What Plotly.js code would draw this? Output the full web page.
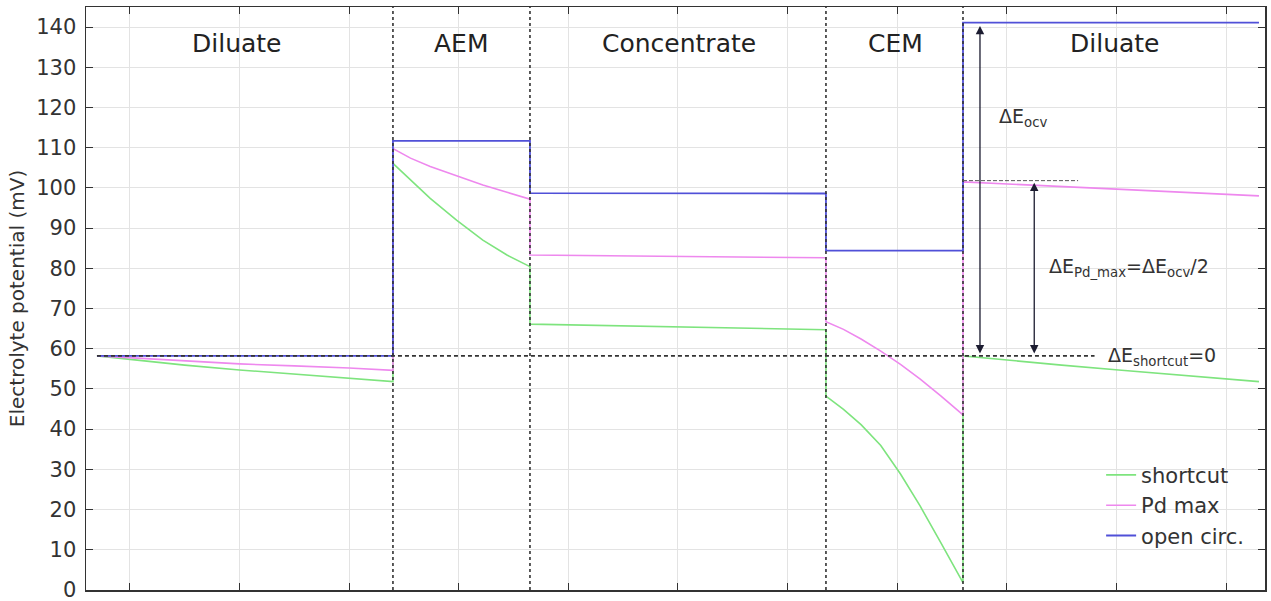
<!DOCTYPE html>
<html>
<head>
<meta charset="utf-8">
<script src="https://cdn.plot.ly/plotly-3.0.1.min.js"></script>
<style>html,body{margin:0;padding:0;background:#fff;}#chart{width:1271px;height:601px;}</style>
</head>
<body>
<div id="chart"></div>
<script>
// x in µm across the cell pair; y in mV
const regionNames = ["Diluate", "AEM", "Concentrate", "CEM", "Diluate"];
const regionLabelX = [128, 332, 531, 728, 929];
const boundaries = [270, 395, 665, 790];

const xOpen = [0, 270, 270, 395, 395, 665, 665, 790, 790, 1060];
const yOpen = [58.2, 58.2, 111.7, 111.7, 98.7, 98.6, 84.4, 84.4, 141.1, 141.1];

const xPd = [0, 30, 80, 130, 180, 230, 270,
             270, 286, 304, 328, 352, 374, 395,
             395, 530, 665,
             665, 681, 697, 715, 733, 751, 770, 790,
             790, 860, 930, 1000, 1060];
const yPd = [58.2, 57.7, 56.9, 56.2, 55.7, 55.2, 54.6,
             109.8, 107.4, 105.3, 103.0, 100.7, 98.9, 97.2,
             83.3, 83.0, 82.6,
             66.7, 64.8, 62.4, 59.4, 56.1, 52.4, 48.2, 43.5,
             101.5, 100.6, 99.7, 98.9, 98.0];

const xShort = [0, 30, 80, 130, 180, 230, 270,
                270, 286, 304, 328, 352, 374, 395,
                395, 530, 665,
                665, 681, 697, 715, 733, 751, 770, 790,
                790, 831, 880, 932, 1000, 1060];
const yShort = [58.2, 57.3, 55.9, 54.7, 53.6, 52.6, 51.8,
                106.1, 102.0, 97.4, 92.0, 87.0, 83.3, 80.4,
                66.1, 65.4, 64.7,
                48.2, 44.9, 41.1, 35.9, 28.8, 20.8, 11.6, 1.8,
                58.2, 57.1, 55.9, 54.7, 53.2, 51.8];

const seriesNames = ["shortcut", "Pd max", "open circ."];
const refLevel = 58.2, refLineEnd = 910;
const pdLevel = 101.8, pdLineX = [790, 895];
const arrowX = [805.5, 855];
const arrowTop = [140.3, 101.3];
const arrowBottom = 58.4;
const yTicks = [0,10,20,30,40,50,60,70,80,90,100,110,120,130,140];
const xTicks = [30,130,230,330,430,530,630,730,830,930,1030];

const traces = [
  {x: xShort, y: yShort, name: seriesNames[0], mode: "lines", line: {color: "#7ee47e", width: 1.6}},
  {x: xPd, y: yPd, name: seriesNames[1], mode: "lines", line: {color: "#ee88ee", width: 1.6}},
  {x: xOpen, y: yOpen, name: seriesNames[2], mode: "lines", line: {color: "#5050d8", width: 1.8}}
];

const shapes = boundaries.map(b => ({type: "line", xref: "x", yref: "paper", x0: b, x1: b, y0: 0, y1: 1, layer: "above",
  line: {color: "#333", width: 1.6, dash: "dot"}}));
shapes.push({type: "line", xref: "x", yref: "y", x0: 0, x1: refLineEnd, y0: refLevel, y1: refLevel, layer: "above",
  line: {color: "#333", width: 1.6, dash: "4px,3px"}});
shapes.push({type: "line", xref: "x", yref: "y", x0: pdLineX[0], x1: pdLineX[1], y0: pdLevel, y1: pdLevel, layer: "above",
  line: {color: "#555", width: 1, dash: "4px,2px"}});

const annotations = regionNames.map((t, i) => ({x: regionLabelX[i], y: 135.8, xref: "x", yref: "y", text: t, showarrow: false,
  font: {family: "DejaVu Sans", size: 25, color: "#222"}}));
arrowX.forEach((ax, i) => annotations.push({x: ax, y: arrowTop[i], ax: ax, ay: arrowBottom, xref: "x", yref: "y", axref: "x", ayref: "y",
  text: "", showarrow: true, arrowside: "end+start", arrowhead: 2, startarrowhead: 2, arrowsize: 1.3, startarrowsize: 1.3, arrowwidth: 1.3, arrowcolor: "#1c1c30", standoff: 0, startstandoff: 0}));
const labelFont = {family: "DejaVu Sans", size: 19, color: "#333"};
annotations.push({x: 821, y: 117.4, xref: "x", yref: "y", xanchor: "left", text: "ΔE<sub>ocv</sub>", showarrow: false, font: labelFont});
annotations.push({x: 867, y: 80.2, xref: "x", yref: "y", xanchor: "left", text: "ΔE<sub>Pd_max</sub>=ΔE<sub>ocv</sub>/2", showarrow: false, font: labelFont});
annotations.push({x: 920, y: 58.0, xref: "x", yref: "y", xanchor: "left", text: "ΔE<sub>shortcut</sub>=0", showarrow: false, font: labelFont});

const layout = {
  width: 1271, height: 601,
  margin: {l: 86, r: 6, t: 7, b: 11},
  paper_bgcolor: "#fff", plot_bgcolor: "#fff",
  font: {family: "DejaVu Sans", color: "#333"},
  showlegend: true,
  legend: {x: 0.861, y: 0.232, xanchor: "left", yanchor: "top", bgcolor: "rgba(255,255,255,0)", font: {family: "DejaVu Sans", size: 21, color: "#333"}},
  xaxis: {range: [-10, 1065.5], tickvals: xTicks, showticklabels: false, ticks: "inside", ticklen: 7, tickcolor: "#333",
    showgrid: true, gridcolor: "#e3e3e3", gridwidth: 1, zeroline: false, showline: true, linecolor: "#333", linewidth: 1.5, mirror: "ticks"},
  yaxis: {range: [-0.05, 145], tickvals: yTicks, ticks: "inside", ticklen: 7, tickcolor: "#333", ticklabelstandoff: 4,
    ticklabeloverflow: "allow",
    tickfont: {family: "DejaVu Sans", size: 21, color: "#333"},
    showgrid: true, gridcolor: "#e3e3e3", gridwidth: 1, zeroline: false, showline: true, linecolor: "#333", linewidth: 1.5, mirror: "ticks",
    title: {text: "Electrolyte potential (mV)", font: {family: "DejaVu Sans", size: 20, color: "#333"}, standoff: 6}},
  shapes: shapes,
  annotations: annotations
};

Plotly.newPlot("chart", traces, layout, {displayModeBar: false, staticPlot: true});
</script>
</body>
</html>
